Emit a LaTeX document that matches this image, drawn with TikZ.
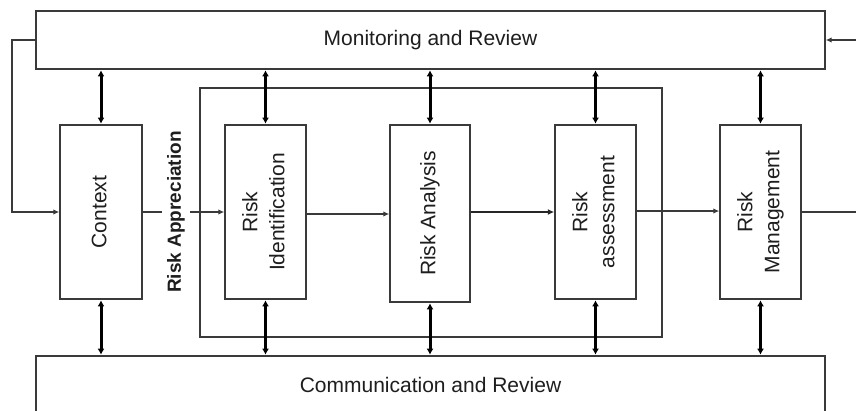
\documentclass[tikz,border=0pt]{standalone}
\usepackage{fontspec}
\setmainfont{Liberation Sans}
\usepackage{graphicx}
\usetikzlibrary{arrows.meta,calc}
\definecolor{linec}{HTML}{3A3A3A}
\definecolor{textc}{HTML}{1E1E1E}
\newcommand{\vtext}[1]{\rotatebox{90}{\begin{tabular}{@{}c@{}}#1\end{tabular}}}
\begin{document}
\begin{tikzpicture}[x=1pt,y=-1pt,
  font=\fontsize{21}{27}\selectfont,
  bigbox/.style={draw=linec,line width=1.4pt,fill=white,inner sep=0pt,minimum width=789pt,minimum height=58pt,text=textc},
  stepbox/.style={draw=linec,line width=1.4pt,fill=white,inner sep=0pt,minimum width=81pt,minimum height=174pt,text=textc},
  frame/.style={draw=linec,line width=1.4pt,inner sep=0pt},
  dbl/.style={line width=3pt,black,{Latex[length=6pt,width=7pt]}-{Latex[length=6pt,width=7pt]},shorten <=0.6pt,shorten >=0.6pt},
  arr/.style={line width=1.2pt,linec,-{Latex[length=6pt,width=5.5pt]}},
  thickarr/.style={line width=2pt,black!85,-{Latex[length=6.5pt,width=6pt]}}
]
\useasboundingbox (0,0) rectangle (856,410);
\clip (0,0) rectangle (856,410);

% inner frame
\node[frame,minimum width=462pt,minimum height=249pt] (fr) at (431,212.5) {};

% top and bottom boxes
\node[bigbox] (mon) at (430.5,40) {Monitoring and Review};
\node[bigbox] (com) at (430.5,385) {Communication and Review};

% process boxes
\node[stepbox,minimum width=82pt] (ctx) at (101,212) {\vtext{Context}};
\node[stepbox] (rid) at (265.5,212) {\vtext{Risk\\Identification}};
\node[stepbox,minimum width=80pt,minimum height=177pt] (ran) at (430,213.5) {\vtext{Risk Analysis}};
\node[stepbox] (ras) at (595.5,212) {\vtext{Risk\\assessment}};
\node[stepbox] (rmg) at (760.5,212) {\vtext{Risk\\Management}};

% vertical double arrows
\foreach \b in {ctx,rid,ran,ras,rmg}{
  \draw[dbl] (\b.north) -- (\b.north |- mon.south);
  \draw[dbl] (\b.south) -- (\b.south |- com.north);
}

% horizontal flow
\draw[arr] (ctx.east) -- (rid.west);
\node[rotate=90,fill=white,inner sep=5pt,text=textc,font=\fontsize{19}{23}\selectfont\bfseries] (app) at (176,212) {Risk Appreciation};
\draw[arr] ([yshift=-2pt]rid.east) -- ([yshift=-2pt]rid.east -| ran.west);
\draw[thickarr] (ras.west -| ran.east) -- (ras.west);
\draw[arr] ([yshift=1pt]ras.east) -- ([yshift=1pt]rmg.west);

% feedback loops
\coordinate (fbL) at (12,40);
\coordinate (fbR) at (875,40);
\draw[arr] (mon.west) -- (mon.west -| fbL) |- (ctx.west);
\draw[arr] (rmg.east) -| (fbR) -- (mon.east);
\end{tikzpicture}
\end{document}
